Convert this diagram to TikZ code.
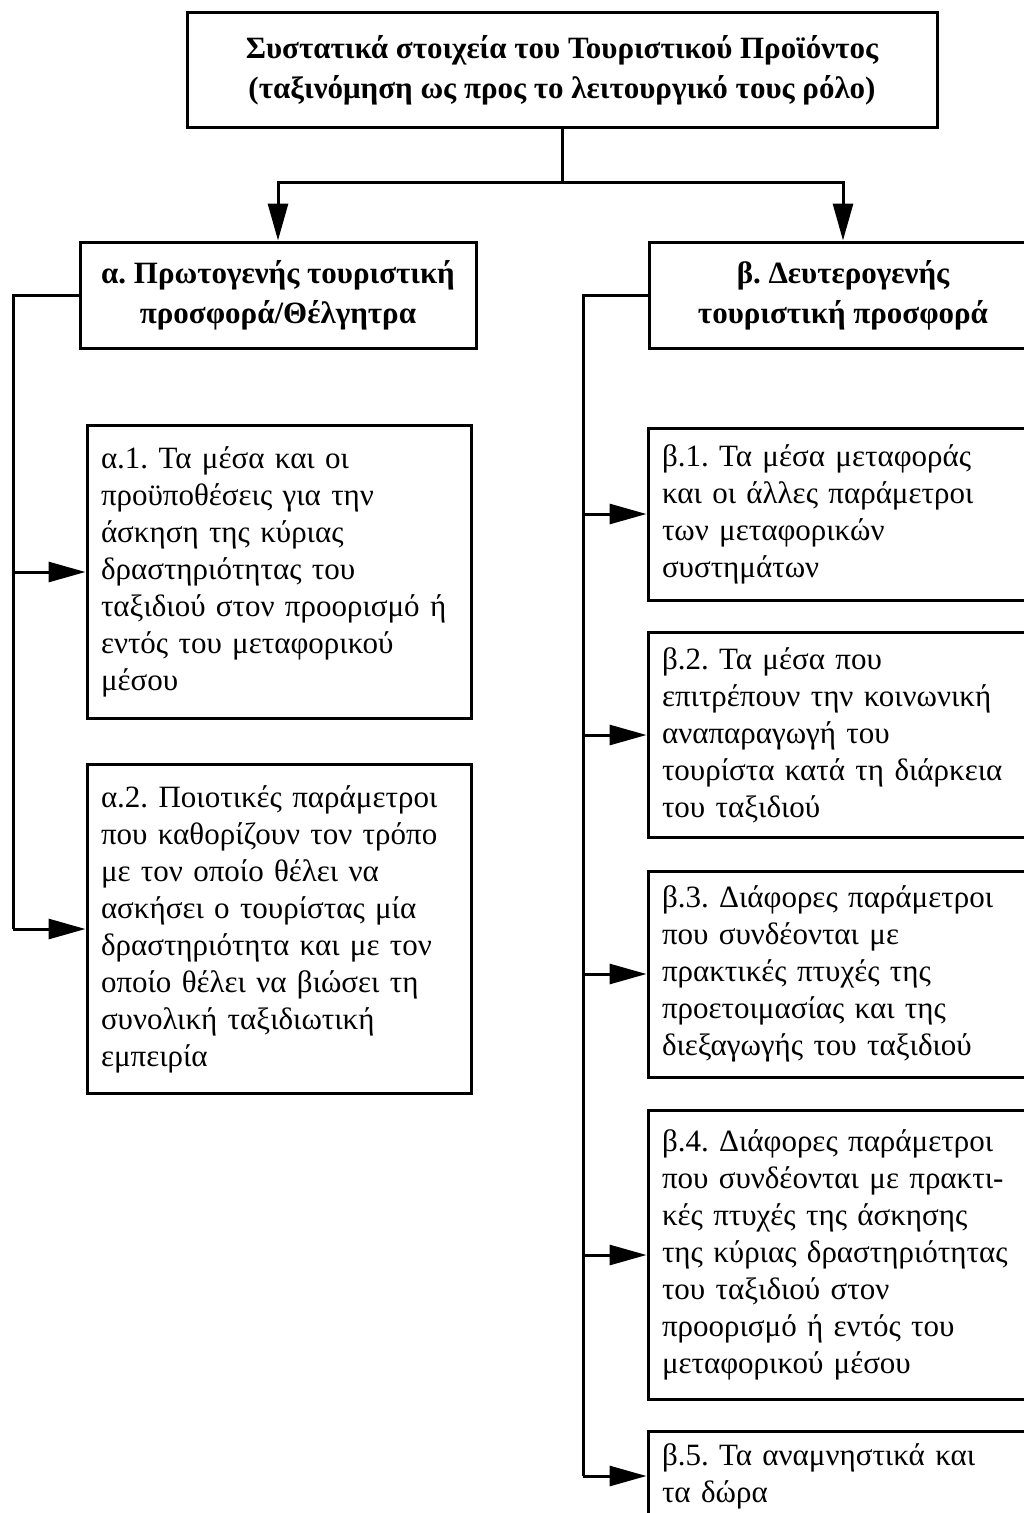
\documentclass[tikz,border=0pt]{standalone}
\usepackage{fontspec}
\setmainfont{Liberation Serif}
\usepackage{tikz}
\usetikzlibrary{positioning,arrows.meta}
\hyphenpenalty=10000
\exhyphenpenalty=10000
\frenchspacing
\tikzset{%
	every box/.style={
		draw,
		line width=3pt,
		inner xsep=14pt,
		inner ysep=0pt
	},
	box head/.style={
		font=\fontsize{31}{40}\selectfont\bfseries,
		align=center
	},
	box item/.style={
		font=\fontsize{31}{37}\selectfont,
		align=left
	},
}
\begin{document}
\begin{tikzpicture}[x=1pt, y=-1pt, >={Triangle[length=37pt,width=20pt]}, line width=3pt]
	
	\useasboundingbox (0,0) rectangle (1024,1513);
	\clip (0,0) rectangle (1024,1513);
	
	\node [every box, box head, minimum width=750pt, minimum height=115pt] (product) at (562,70)
	{Συστατικά στοιχεία του Τουριστικού Προϊόντος\\(ταξινόμηση ως προς το λειτουργικό τους ρόλο)};
	
	\node [every box, box head, minimum width=396pt, minimum height=106pt] (primary) at (278,295)
	{α. Πρωτογενής τουριστική\\προσφορά/Θέλγητρα};
	\node [every box, box head, minimum width=388pt, minimum height=106pt] (secondary) at (843,295)
	{β. Δευτερογενής\\τουριστική προσφορά};
	
	\foreach \yc/\h/\txt [count=\i] in {
		572/293/{α.1. Τα μέσα και οι\\προϋποθέσεις για την\\άσκηση της κύριας\\δραστηριότητας του\\ταξιδιού στον προορισμό ή\\εντός του μεταφορικού\\μέσου},
		929/329/{α.2. Ποιοτικές παράμετροι\\που καθορίζουν τον τρόπο\\με τον οποίο θέλει να\\ασκήσει ο τουρίστας μία\\δραστηριότητα και με τον\\οποίο θέλει να βιώσει τη\\συνολική ταξιδιωτική\\εμπειρία}}
	\node [every box, box item, text width=356pt, minimum height=\h pt] (prim-\i) at (279,\yc) {\txt};
	
	\foreach \yc/\h/\txt [count=\i] in {
		514/172/{β.1. Τα μέσα μεταφοράς\\και οι άλλες παράμετροι\\των μεταφορικών\\συστημάτων},
		735/205/{β.2. Τα μέσα που\\επιτρέπουν την κοινωνική\\αναπαραγωγή του\\τουρίστα κατά τη διάρκεια\\του ταξιδιού},
		974/206/{β.3. Διάφορες παράμετροι\\που συνδέονται με\\πρακτικές πτυχές της\\προετοιμασίας και της\\διεξαγωγής του ταξιδιού},
		1255/289/{β.4. Διάφορες παράμετροι\\που συνδέονται με πρακτι-\\κές πτυχές της άσκησης\\της κύριας δραστηριότητας\\του ταξιδιού στον\\προορισμό ή εντός του\\μεταφορικού μέσου},
		1476/90/{β.5. Τα αναμνηστικά και\\τα δώρα}}
	\node [every box, box item, text width=362pt, minimum height=\h pt] (sec-\i) at (843,\yc) {\txt};
	
	\coordinate (fork) at (562,182);
	\coordinate (ltrunk) at (13,0);
	\coordinate (rtrunk) at (583,0);
	
	\draw (product.south) -- (fork);
	\draw [->] (fork) -| (primary.north);
	\draw [->] (fork) -| (secondary.north);
	
	\draw (primary.west) -| (ltrunk |- prim-2.west);
	\draw (secondary.west) -| (rtrunk |- sec-5.west);
	
	\foreach \i in {1,2}
	\draw [->] (ltrunk |- prim-\i.west) -- (prim-\i.west);
	
	\foreach \i in {1,...,5}
	\draw [->] (rtrunk |- sec-\i.west) -- (sec-\i.west);
	
\end{tikzpicture}
\end{document}
